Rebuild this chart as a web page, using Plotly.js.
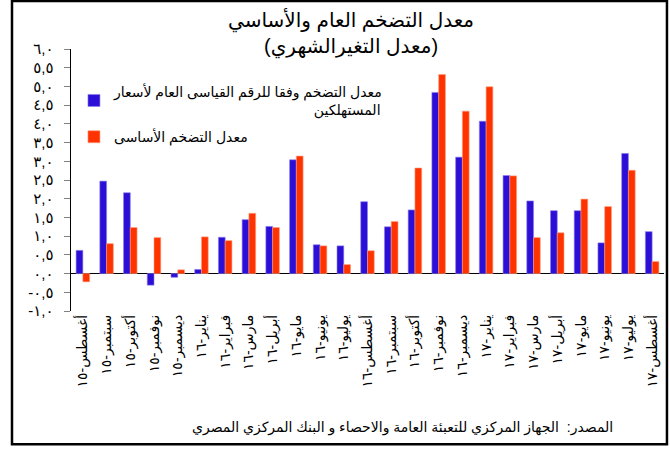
<!DOCTYPE html>
<html>
<head>
<meta charset="utf-8">
<script src="https://cdn.plot.ly/plotly-3.0.1.min.js"></script>
<style>html,body{margin:0;padding:0;background:#fff;}#chart{width:670px;height:450px;}</style>
</head>
<body>
<div id="chart"></div>
<script>
const months = ["أغسطس-١٥","سبتمبر-١٥","أكتوبر-١٥","نوفمبر-١٥","ديسمبر-١٥","يناير-١٦","فبراير-١٦","مارس-١٦","أبريل-١٦","مايو-١٦","يونيو-١٦","يوليو-١٦","أغسطس-١٦","سبتمبر-١٦","أكتوبر-١٦","نوفمبر-١٦","ديسمبر-١٦","يناير-١٧","فبراير-١٧","مارس-١٧","أبريل-١٧","مايو-١٧","يونيو-١٧","يوليو-١٧","أغسطس-١٧"];
const headline = [0.62,2.47,2.16,-0.31,-0.10,0.11,0.97,1.44,1.26,3.04,0.77,0.74,1.92,1.25,1.70,4.84,3.11,4.07,2.62,1.94,1.68,1.68,0.82,3.21,1.12];
const core = [-0.22,0.80,1.23,0.96,0.10,0.98,0.88,1.61,1.23,3.14,0.74,0.24,0.61,1.39,2.82,5.32,4.34,4.99,2.61,0.96,1.09,1.99,1.79,2.76,0.32];
const yTickVals = [6,5.5,5,4.5,4,3.5,3,2.5,2,1.5,1,0.5,0,-0.5,-1];
const yTickText = ["٦,٠","٥,٥","٥,٠","٤,٥","٤,٠","٣,٥","٣,٠","٢,٥","٢,٠","١,٥","١,٠","٠,٥","٠,٠","-٠,٥","-١,٠"];
const pad = "\u2003".repeat(14) + "\u00A0";
const nameHeadline = "معدل التضخم وفقا للرقم القياسى العام لأسعار<br>" + pad + "المستهلكين";
const nameCore = "معدل التضخم الأساسى";
const titleText = "معدل التضخم العام والأساسي<br>(معدل التغيرالشهري)";
const sourceText = "المصدر:  الجهاز المركزي للتعبئة العامة والاحصاء و البنك المركزي المصري";

const fontFam = "Arial, 'DejaVu Sans', sans-serif";

const data = [
  {type:'bar', x: months, y: headline, name: nameHeadline, legendgroup:'a',
   marker:{color:'#2B0FD6', line:{color:'#8C80EA', width:0.6}}},
  {type:'bar', x: months, y: core, name: nameCore, legendgroup:'b',
   marker:{color:'#FF3300', line:{color:'#FF9C80', width:0.6}}}
];

const layout = {
  width:670, height:450,
  margin:{l:71, r:6, t:49, b:138.5, pad:0},
  paper_bgcolor:'#fff', plot_bgcolor:'#fff',
  font:{family:fontFam, color:'#000', size:13},
  title:{text:titleText, x:0.524, xanchor:'center', y:0.94, yanchor:'top', yref:'container',
         font:{family:fontFam, size:20, color:'#000'}},
  barmode:'group', bargap:0.43, bargroupgap:0,
  showlegend:true,
  legend:{x:0.005, xanchor:'left', y:0.898, yanchor:'top', bgcolor:'rgba(0,0,0,0)',
          traceorder:'grouped', tracegroupgap:6,
          font:{family:fontFam, size:14, color:'#000'}, itemwidth:30},
  xaxis:{type:'category', tickangle:-90, showline:false, showgrid:false, zeroline:false,
         ticks:'', tickfont:{family:fontFam, size:14, color:'#000'}, automargin:false},
  yaxis:{range:[-1,6], tickvals:yTickVals, ticktext:yTickText, showgrid:false,
         showline:true, linecolor:'#000', linewidth:1.5, ticks:'outside', ticklen:6,
         tickcolor:'#808080', tickwidth:1, zeroline:true, zerolinecolor:'#000', zerolinewidth:1.5,
         ticklabelstandoff:7,
         tickfont:{family:fontFam, size:15, color:'#000'}, automargin:false},
  shapes:[{type:'rect', xref:'paper', yref:'paper', x0:-0.0995, x1:1.005, y0:-0.5086, y1:1.183,
           line:{color:'#000', width:2.5}, fillcolor:'rgba(0,0,0,0)', layer:'above'}],
  annotations:[{text:sourceText, xref:'paper', yref:'paper', x:0.917, xanchor:'right', y:-0.444, yanchor:'middle',
                showarrow:false, font:{family:fontFam, size:14, color:'#000'}}]
};

Plotly.newPlot('chart', data, layout, {displayModeBar:false, staticPlot:true});
</script>
</body>
</html>
